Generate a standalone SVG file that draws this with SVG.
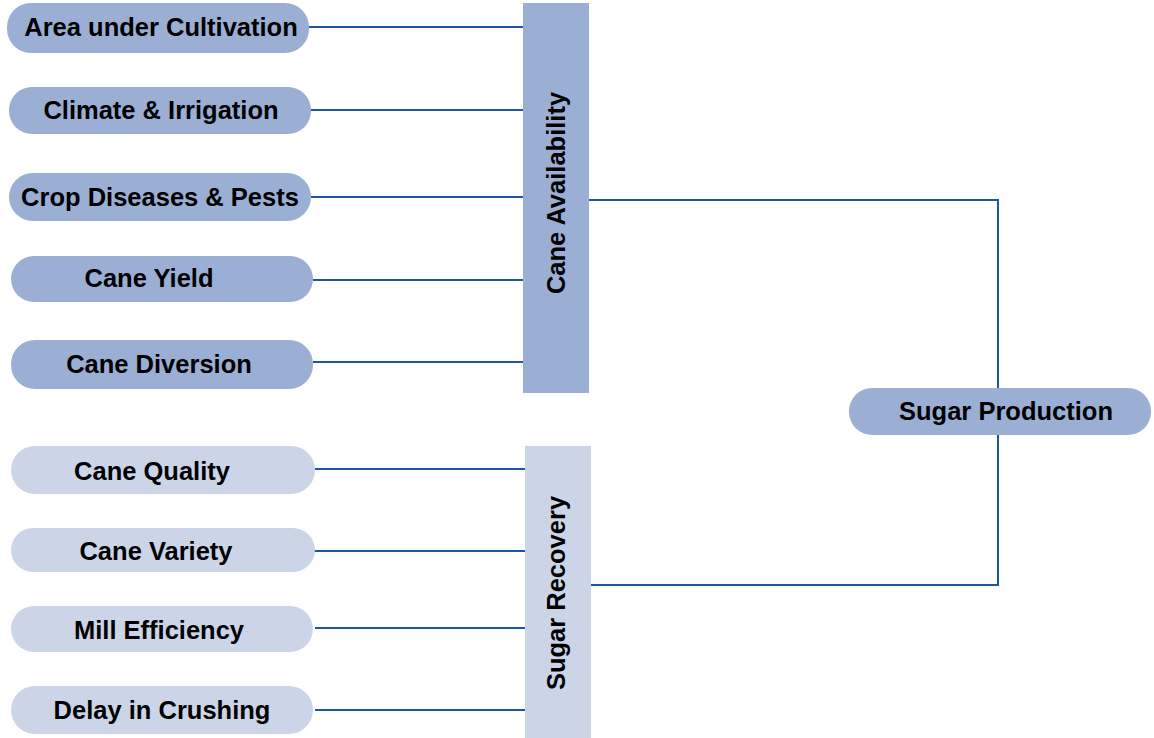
<svg xmlns="http://www.w3.org/2000/svg" width="1154" height="738" viewBox="0 0 1154 738">
<style>
.dark{fill:#9bafd5}
.light{fill:#ccd5e8}
.t{font-family:"Liberation Sans",Arial,sans-serif;font-weight:bold;font-size:25.5px;fill:#000;text-anchor:middle;dominant-baseline:central}
.c{stroke:#1f56a0;stroke-width:2;fill:none}
</style>
<rect width="1154" height="738" fill="#fff"/>
<g id="connectors">
<line class="c" x1="309" y1="27" x2="523" y2="27"/>
<line class="c" x1="311" y1="110" x2="525" y2="110"/>
<line class="c" x1="311" y1="197" x2="523" y2="197"/>
<line class="c" x1="313" y1="280" x2="527" y2="280"/>
<line class="c" x1="313" y1="362" x2="525" y2="362"/>
<line class="c" x1="315" y1="469" x2="527" y2="469"/>
<line class="c" x1="313" y1="551" x2="527" y2="551"/>
<line class="c" x1="315" y1="628" x2="527" y2="628"/>
<line class="c" x1="315" y1="710" x2="525" y2="710"/>
<polyline class="c" points="587,200 998,200 998,388"/>
<polyline class="c" points="998,435 998,585 590,585"/>
</g>
<g id="area"><rect class="dark" x="7" y="3" width="302" height="50" rx="24"/><text class="t" x="161" y="27">Area under Cultivation</text></g>
<g id="climate"><rect class="dark" x="9" y="87" width="302" height="47" rx="23"/><text class="t" x="161" y="110">Climate &amp; Irrigation</text></g>
<g id="crop"><rect class="dark" x="9" y="173" width="302" height="48" rx="24"/><text class="t" x="160" y="197">Crop Diseases &amp; Pests</text></g>
<g id="yield"><rect class="dark" x="11" y="256" width="302" height="46" rx="23"/><text class="t" x="149" y="278">Cane Yield</text></g>
<g id="diversion"><rect class="dark" x="11" y="340" width="302" height="49" rx="24"/><text class="t" x="159" y="364">Cane Diversion</text></g>
<g id="quality"><rect class="light" x="11" y="446" width="304" height="48" rx="24"/><text class="t" x="152" y="471">Cane Quality</text></g>
<g id="variety"><rect class="light" x="11" y="528" width="304" height="44" rx="22"/><text class="t" x="156" y="551">Cane Variety</text></g>
<g id="mill"><rect class="light" x="11" y="606" width="302" height="46" rx="23"/><text class="t" x="159" y="630">Mill Efficiency</text></g>
<g id="delay"><rect class="light" x="11" y="686" width="302" height="48" rx="24"/><text class="t" x="162" y="710">Delay in Crushing</text></g>
<g id="cane-availability"><rect class="dark" x="523" y="3" width="66" height="390"/><text class="t" transform="translate(556,193) rotate(-90)" x="0" y="0">Cane Availability</text></g>
<g id="sugar-recovery"><rect class="light" x="525" y="446" width="66" height="292"/><text class="t" transform="translate(556,593) rotate(-90)" x="0" y="0">Sugar Recovery</text></g>
<g id="sugar-production"><rect class="dark" x="849" y="388" width="302" height="47" rx="23"/><text class="t" x="1006" y="411">Sugar Production</text></g>
</svg>
